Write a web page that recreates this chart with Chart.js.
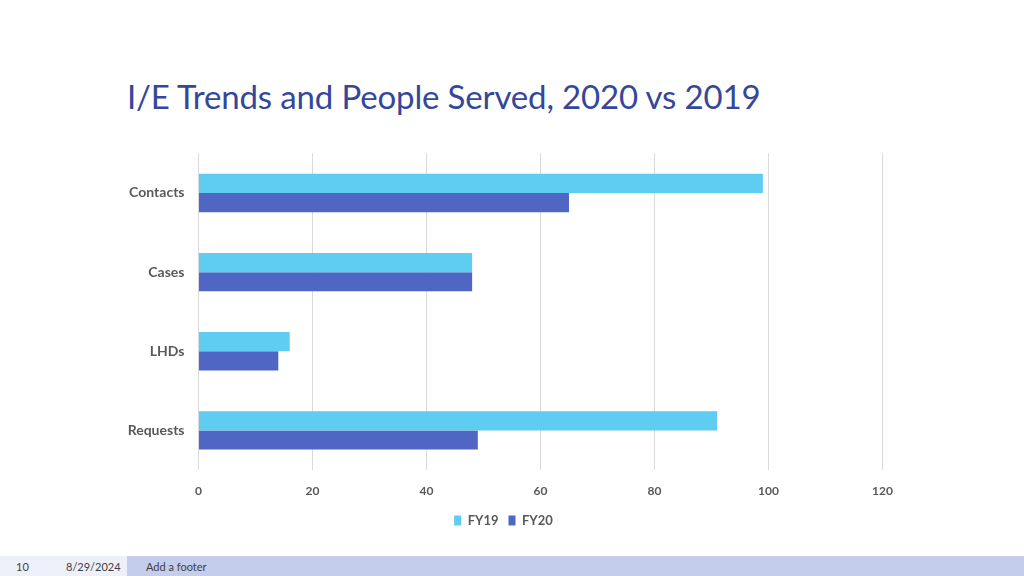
<!DOCTYPE html>
<html><head><meta charset="utf-8">
<script src="https://cdn.jsdelivr.net/npm/chart.js@4"></script>
<style>
html,body{margin:0;padding:0;background:#fff;width:1024px;height:576px;overflow:hidden;font-family:Lato,"Open Sans",sans-serif;}
#title{position:absolute;left:127px;top:76px;font-size:33px;color:#34479b;letter-spacing:-0.15px;white-space:nowrap;}
#wrap{position:absolute;left:100px;top:139px;width:807px;height:398px;}
#footL{position:absolute;left:0;top:556px;width:127px;height:20px;background:#eef0f9;}
#footR{position:absolute;left:127px;top:556px;width:897px;height:20px;background:#c5cdec;}
.ft{position:absolute;top:560px;font-size:11px;color:#404040;}
</style></head><body>
<div id="title">I/E Trends and People Served, 2020 vs 2019</div>
<div id="wrap"><canvas id="c"></canvas></div>
<div id="footL"></div><div id="footR"></div>
<div class="ft" style="left:16px">10</div>
<div class="ft" style="left:66px">8/29/2024</div>
<div class="ft" style="left:146px">Add a footer</div>
<script>
const categories = ["Contacts","Cases","LHDs","Requests"];
const fy19 = [99,48,16,91];
const fy20 = [65,48,14,49];
const seriesNames = ["FY19","FY20"];
const xTicks = [0,20,40,60,80,100,120];

new Chart(document.getElementById('c'),{
  type:'bar',
  data:{labels:categories,datasets:[
    {label:seriesNames[0],data:fy19,backgroundColor:'#5ecdf1',categoryPercentage:0.485,barPercentage:1},
    {label:seriesNames[1],data:fy20,backgroundColor:'#4f66c4',categoryPercentage:0.485,barPercentage:1}
  ]},
  options:{
    indexAxis:'y',responsive:true,maintainAspectRatio:false,animation:false,
    layout:{padding:{top:4,right:0,bottom:0,left:0}},
    plugins:{
      legend:{position:'bottom',labels:{boxWidth:7,boxHeight:10,padding:10,color:'#595959',font:{family:'Lato',size:13,weight:'bold'}}},
      tooltip:{enabled:false}
    },
    scales:{
      x:{min:0,max:120,
        afterBuildTicks:s=>{s.ticks=xTicks.map(v=>({value:v}));},
        grid:{color:'#d9d9d9',drawTicks:false},border:{display:false},
        ticks:{padding:14,color:'#595959',font:{family:'Lato',size:12,weight:'bold'}},
        afterFit:s=>{s.height=34;}
      },
      y:{grid:{display:false},border:{display:false},
        ticks:{padding:6,color:'#595959',font:{family:'Lato',size:14,weight:'bold'}},
        afterFit:s=>{s.width=98.5;}
      }
    }
  }
});
</script>
</body></html>
